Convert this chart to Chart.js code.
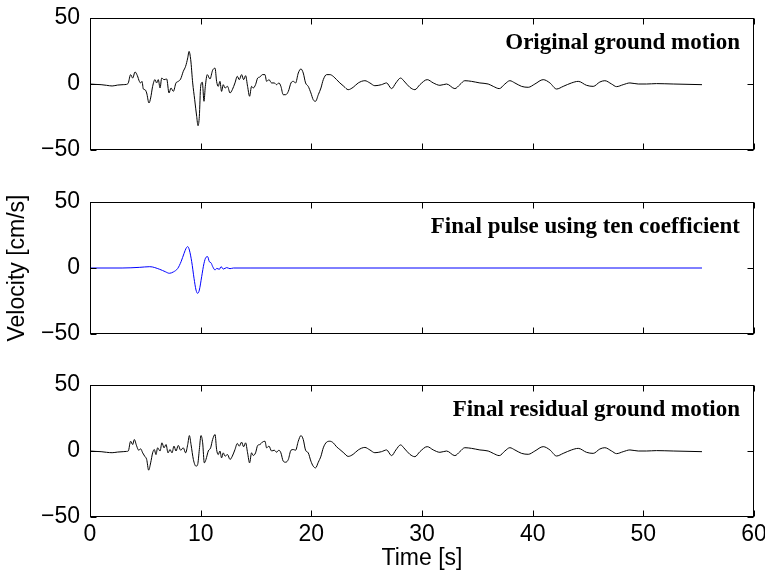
<!DOCTYPE html>
<html>
<head>
<meta charset="utf-8">
<script src="https://cdn.jsdelivr.net/npm/chart.js@4/dist/chart.umd.min.js"></script>
<style>
  body { margin: 0; background: #fff; }
  #wrap { position: relative; width: 765px; height: 572px; background: #fff; }
  .panel { position: absolute; left: 0; width: 765px; }
</style>
</head>
<body>
<div id="wrap">
  <div class="panel" style="top:0px;height:168px"><canvas id="c1" width="765" height="168"></canvas></div>
  <div class="panel" style="top:184px;height:168px"><canvas id="c2" width="765" height="168"></canvas></div>
  <div class="panel" style="top:367px;height:205px"><canvas id="c3" width="765" height="205"></canvas></div>
</div>
<script>
// tick values shared by all three panels
const timeTicks = [0, 10, 20, 30, 40, 50, 60];
const velTicks = [-50, 0, 50];

const panelTitles = ['Original ground motion', 'Final pulse using ten coefficient', 'Final residual ground motion'];

// [time s, velocity cm/s]
const originalMotion = [
  [0,0],[0.5,-0.3],[1,-0.5],[1.5,-1],[2,-1.5],[2.5,-0.8],[3,-0.5],[3.3,-0.3],[3.46,0.8],[3.67,7.1],[3.86,4.5],
  [4.07,9.1],[4.28,6.3],[4.46,2],[4.58,0.8],[4.7,2],[4.82,-3.8],[4.97,-4.3],[5.12,-6.8],[5.33,-14.4],[5.48,-10.6],
  [5.66,-1.8],[5.87,3.3],[6.02,0.8],[6.17,3.3],[6.33,-3],[6.48,4.5],[6.69,3.3],[6.93,3.8],[7.14,-6.8],[7.32,-3],
  [7.53,-5.6],[7.77,0.8],[7.98,2],[8.19,3.8],[8.43,9.6],[8.64,13.4],[8.83,19.7],[8.95,24.7],[9.1,18.4],[9.28,0.8],
  [9.46,-11.9],[9.64,-24.5],[9.76,-31.6],[9.88,-24.5],[10.0,-1.8],[10.15,1.3],[10.3,-13.1],[10.42,-1.8],[10.6,7.1],
  [10.84,3.8],[11.08,10.4],[11.3,12],[11.44,2],[11.59,-1.8],[11.74,2],[11.89,-5.6],[12.04,-0.5],[12.2,-3],[12.43,-1.8],
  [12.65,-6.8],[12.86,-4.3],[13.1,0.8],[13.31,5.8],[13.49,3.3],[13.7,7.1],[13.88,3.3],[14.06,6.3],[14.24,-1.8],
  [14.42,-9.3],[14.6,-1.8],[14.75,-3],[14.96,-0.5],[15.15,4.5],[15.36,5.3],[15.57,7.1],[15.81,7.1],[15.96,2],
  [16.17,3.3],[16.41,0.8],[16.65,0.8],[16.86,-0.5],[17.07,0.8],[17.25,-1.8],[17.46,-8.1],[17.68,-8.1],[17.92,-5.6],
  [18.16,0.8],[18.37,2],[18.58,0.8],[18.82,8.3],[19.06,11.4],[19.27,8.3],[19.48,0.8],[19.72,-1.8],[19.96,-6.8],
  [20.17,-11.9],[20.38,-13.1],[20.63,-8.1],[20.87,-3],[21.08,3.3],[21.38,7.1],[21.68,7.1],[21.98,5.8],[22.28,3.3],
  [22.58,0.8],[22.94,-1.8],[23.33,-4.3],[23.78,-2.5],[24.24,0.8],[24.84,2.5],[25.29,0.8],[25.74,-1.3],[26.34,-0.5],
  [26.8,0.8],[27.25,-3.5],[27.64,0.8],[28.06,4.5],[28.45,1.5],[28.9,-2.5],[29.36,-4.3],[29.81,-0.5],[30.47,3.3],
  [31.02,0.8],[31.62,-1],[32.22,0],[32.97,-3.5],[33.42,-0.5],[33.87,2.5],[34.48,2],[35.23,0.8],[35.98,0],
  [36.44,-1.8],[36.98,-3.5],[37.49,0],[37.94,2.5],[38.39,0.8],[39.0,-1.8],[39.6,-2.5],[40.2,0],[40.95,3.3],
  [41.56,0.8],[42.16,-3.8],[42.76,-1.8],[43.51,0.8],[44.12,2],[44.87,-1],[45.47,-1.8],[46.07,1.5],[46.52,2.5],
  [47.13,0],[47.58,-2],[48.18,-0.5],[48.79,0.8],[49.54,0],[50.29,0],[51.19,0.3],[52.7,0],[55.3,-0.5]
];

const pulseMotion = [
  [0,0],[2.9,0],[4.5,0.5],[5.4,1],[6.3,-1],[6.8,-2.8],[7.17,-4],[7.53,-3],[7.93,-0.3],[8.23,4.8],[8.5,11.1],
  [8.68,14.9],[8.83,16.2],[8.98,13.6],[9.19,4.8],[9.4,-7.8],[9.58,-16.7],[9.73,-19.2],[9.88,-16.7],[10.09,-6.6],
  [10.3,3.5],[10.48,8.1],[10.63,8.6],[10.78,4.8],[10.93,4],[11.09,1],[11.3,-1.5],[11.45,-0.3],[11.69,-1],
  [11.84,1],[12.05,-0.8],[12.35,0.3],[12.65,-0.5],[12.96,0],[14.46,0],[55.3,0]
];

const residualMotion = [
  [0,0],[0.5,-0.3],[1,-0.5],[1.5,-1],[2,-1.3],[2.5,-0.8],[3,-0.5],[3.3,-0.3],[3.46,0],[3.67,7.4],[3.86,4.9],
  [4.0,8.7],[4.22,3.7],[4.4,0.6],[4.58,1.6],[4.76,-1.4],[4.94,-3.9],[5.12,-6.4],[5.3,-14.5],[5.48,-9],[5.66,-1.4],
  [5.81,1.1],[5.96,-2.7],[6.11,2.4],[6.33,0],[6.5,6.2],[6.69,2.4],[6.87,4.9],[7.05,-1.4],[7.23,1.1],[7.41,-1.4],
  [7.59,3.7],[7.77,0],[7.98,4.2],[8.19,0.6],[8.43,2.4],[8.64,-1.4],[8.83,4.9],[8.98,11.7],[9.13,4.9],[9.34,-6.4],
  [9.58,-11.5],[9.73,-10.2],[9.88,1.1],[10.03,11.7],[10.18,6.2],[10.33,-9],[10.48,-6.4],[10.69,0],[10.9,2.4],
  [11.08,8.7],[11.3,12.5],[11.44,1.1],[11.59,-2.7],[11.74,0],[11.89,-5.2],[12.04,-1.4],[12.2,-3.9],[12.43,-2.7],
  [12.65,-6.4],[12.86,-3.9],[13.1,1.1],[13.31,5.7],[13.49,3.7],[13.7,6.7],[13.88,3.2],[14.06,6.2],[14.24,-1.4],
  [14.42,-9],[14.6,-1.4],[14.75,-3.4],[14.96,-1.4],[15.15,4.2],[15.36,4.9],[15.57,6.7],[15.81,7.4],[15.96,2.4],
  [16.17,3.7],[16.41,0],[16.65,0.6],[16.86,-0.9],[17.07,0.6],[17.25,-1.4],[17.46,-7.7],[17.68,-8.5],[17.92,-6.4],
  [18.16,0.6],[18.37,1.1],[18.58,0.6],[18.82,7.4],[19.06,11.7],[19.27,8.7],[19.48,0.6],[19.72,-1.4],[19.96,-7.7],
  [20.17,-11.5],[20.38,-12.8],[20.63,-8.5],[20.87,-3.9],[21.08,2.4],[21.38,6.7],[21.68,7.4],[21.98,6.2],[22.28,3.2],
  [22.58,1.1],[22.94,-1.5],[23.33,-4.1],[23.78,-2.5],[24.24,0.8],[24.84,2.7],[25.29,0.8],[25.74,-1.3],[26.34,-0.5],
  [26.8,0.8],[27.25,-3.5],[27.64,0.8],[28.06,4.6],[28.45,1.5],[28.9,-2.5],[29.36,-4.3],[29.81,-0.5],[30.47,3.3],
  [31.02,0.8],[31.62,-1],[32.22,0],[32.97,-3.5],[33.42,-0.5],[33.87,2.5],[34.48,2],[35.23,0.8],[35.98,0],
  [36.44,-1.8],[36.98,-3.5],[37.49,0],[37.94,2.5],[38.39,0.8],[39.0,-1.8],[39.6,-2.5],[40.2,0],[40.95,3.3],
  [41.56,0.8],[42.16,-3.8],[42.76,-1.8],[43.51,0.8],[44.12,2],[44.87,-1],[45.47,-1.8],[46.07,1.5],[46.52,2.5],
  [47.13,0],[47.58,-2],[48.18,-0.5],[48.79,0.8],[49.54,0],[50.29,0],[51.19,0.3],[52.7,0],[55.3,-0.5]
];

const SANS = '"Liberation Sans", Arial, sans-serif';
const SERIF = '"Liberation Serif", "Times New Roman", serif';

// box round the plot, inward ticks on all four sides, and the panel caption
const framePlugin = {
  id: 'frame',
  afterDraw(chart) {
    const ctx = chart.ctx;
    const a = chart.chartArea;
    const xs = chart.scales.x, ys = chart.scales.y;
    const L = Math.round(a.left) + 0.5, R = Math.round(a.right) - 0.5;
    const T = Math.round(a.top) + 0.5, B = Math.round(a.bottom) - 0.5;
    ctx.save();
    ctx.strokeStyle = '#000';
    ctx.lineWidth = 1;
    ctx.strokeRect(L, T, R - L, B - T);
    ctx.beginPath();
    timeTicks.forEach(v => {
      const px = Math.round(xs.getPixelForValue(v)) + 0.5;
      ctx.moveTo(px, B); ctx.lineTo(px, B - 6);
      ctx.moveTo(px, T); ctx.lineTo(px, T + 6);
    });
    velTicks.forEach(v => {
      const py = Math.round(ys.getPixelForValue(v)) + 0.5;
      ctx.moveTo(L, py); ctx.lineTo(L + 6, py);
      ctx.moveTo(R, py); ctx.lineTo(R - 6, py);
    });
    ctx.stroke();
    const title = chart.options.plugins.frame.title;
    ctx.fillStyle = '#000';
    ctx.font = 'bold 23px ' + SERIF;
    ctx.textAlign = 'right';
    ctx.textBaseline = 'middle';
    ctx.fillText(title, a.right - 14, a.top + 25);
    ctx.restore();
  }
};

function makePanel(id, data, color, title, isBottom, showYTitle) {
  const ctx = document.getElementById(id).getContext('2d');
  return new Chart(ctx, {
    type: 'line',
    data: {
      datasets: [{
        data: data.map(p => ({ x: p[0], y: p[1] })),
        borderColor: color,
        borderWidth: 1,
        pointRadius: 0,
        cubicInterpolationMode: 'monotone',
        fill: false
      }]
    },
    options: {
      responsive: false,
      animation: false,
      devicePixelRatio: 1,
      layout: { padding: { top: 18, right: 11, bottom: isBottom ? 0 : 18, left: 0 } },
      plugins: {
        legend: { display: false },
        tooltip: { enabled: false },
        frame: { title: title }
      },
      scales: {
        x: {
          type: 'linear',
          display: isBottom,
          min: 0,
          max: 60,
          afterBuildTicks: s => { s.ticks = timeTicks.map(v => ({ value: v })); },
          afterFit: s => {
            if (isBottom) s.height = 55;
            s.paddingLeft = 0;
            s.paddingRight = 0;
          },
          grid: { display: false, drawTicks: false },
          border: { display: false },
          ticks: { color: '#000', font: { family: SANS, size: 23 }, padding: 4, maxRotation: 0 },
          title: { display: true, text: 'Time [s]', color: '#000', font: { family: SANS, size: 23 }, padding: { top: 0, bottom: 0 } }
        },
        y: {
          type: 'linear',
          min: -50,
          max: 50,
          afterBuildTicks: s => { s.ticks = velTicks.map(v => ({ value: v })); },
          afterFit: s => {
            s.width = 90;
            s.paddingTop = 0;
            s.paddingBottom = 0;
          },
          grid: { display: false, drawTicks: false },
          border: { display: false },
          ticks: {
            color: '#000',
            font: { family: SANS, size: 23 },
            padding: 10,
            callback: v => String(v).replace('-', '\u2212')
          },
          title: {
            display: showYTitle,
            text: 'Velocity [cm/s]',
            color: '#000',
            font: { family: SANS, size: 23 },
            padding: { top: 4, bottom: 0 }
          }
        }
      }
    },
    plugins: [framePlugin]
  });
}

makePanel('c1', originalMotion, '#000000', panelTitles[0], false, false);
makePanel('c2', pulseMotion, '#0000ff', panelTitles[1], false, true);
makePanel('c3', residualMotion, '#000000', panelTitles[2], true, false);
</script>
</body>
</html>
